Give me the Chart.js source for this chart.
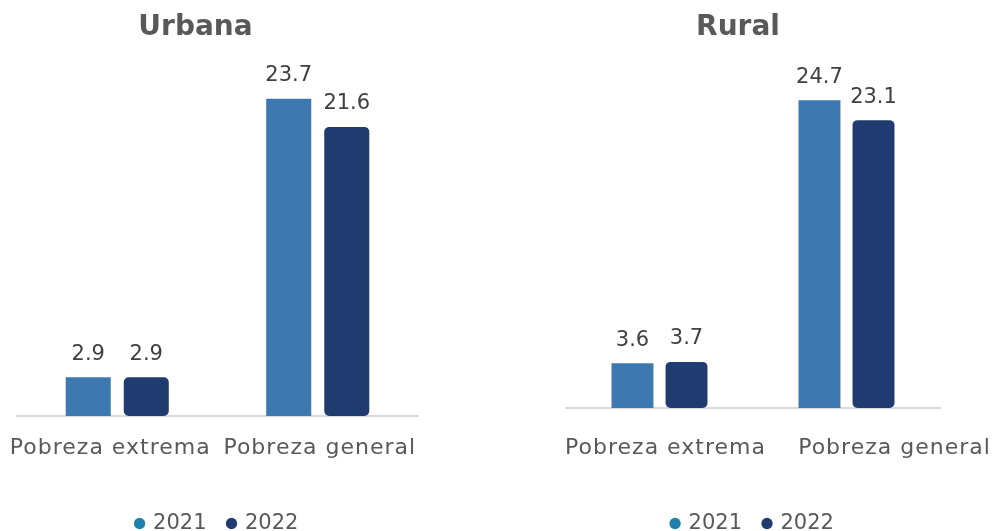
<!DOCTYPE html>
<html>
<head>
<meta charset="utf-8">
<script src="https://cdn.jsdelivr.net/npm/chart.js@4.4.1/dist/chart.umd.min.js"></script>
<style>
  html, body { margin: 0; padding: 0; background: #fff; overflow: hidden; }
  .box { position: absolute; top: 0; height: 531px; }
</style>
</head>
<body>
<div class="box" style="left:0;width:497px"><canvas id="urbanaChart"></canvas></div>
<div class="box" style="left:497px;width:498px"><canvas id="ruralChart"></canvas></div>
<script>
const categories = ['Pobreza extrema', 'Pobreza general'];
const seriesNames = ['2021', '2022'];
const urbana2021 = [2.9, 23.7];
const urbana2022 = [2.9, 21.6];
const rural2021 = [3.6, 24.7];
const rural2022 = [3.7, 23.1];

const barColors = ['#3d78b0', '#1f3b6f'];
const legendColors = ['#2280ad', '#1f3b6f'];
const FONT = 'DejaVu Sans';

// value above each bar
const valueLabels = {
  id: 'valueLabels',
  afterDatasetsDraw(chart) {
    const ctx = chart.ctx;
    ctx.save();
    ctx.font = '21px ' + FONT;
    ctx.textAlign = 'center';
    ctx.textBaseline = 'middle';
    chart.data.datasets.forEach((ds, i) => {
      chart.getDatasetMeta(i).data.forEach((bar, j) => {
        ctx.fillStyle = '#404040';
        ctx.fillText(ds.data[j].toFixed(1), bar.x, bar.y - 23);
      });
    });
    ctx.restore();
  }
};

// category names under the axis + chart heading
const catLabels = {
  id: 'catLabels',
  afterDraw(chart, args, opts) {
    const ctx = chart.ctx;
    const x = chart.scales.x;
    const area = chart.chartArea;
    ctx.save();
    ctx.textAlign = 'center';
    ctx.textBaseline = 'middle';
    ctx.font = '22px ' + FONT;
    ctx.letterSpacing = '1px';
    ctx.fillStyle = '#595959';
    chart.data.labels.forEach((lbl, i) => {
      ctx.fillText(lbl, x.getPixelForValue(i) + opts.shift[i], area.bottom + opts.gap);
    });
    ctx.letterSpacing = '0px';
    ctx.font = 'bold 28px ' + FONT;
    ctx.fillText(opts.title, (area.left + area.right) / 2 + opts.titleShift, 28);
    ctx.restore();
  }
};

function makeChart(id, title, d2021, d2022, cfg) {
  return new Chart(document.getElementById(id), {
    type: 'bar',
    data: {
      labels: categories,
      datasets: [
        { label: seriesNames[0], data: d2021, backgroundColor: barColors[0], borderRadius: 0 },
        { label: seriesNames[1], data: d2022, backgroundColor: barColors[1], borderRadius: 5, borderSkipped: false }
      ]
    },
    options: {
      responsive: true,
      maintainAspectRatio: false,
      animation: false,
      layout: { padding: { left: cfg.left, right: cfg.right, top: cfg.top, bottom: -13 } },
      categoryPercentage: cfg.catPct,
      barPercentage: 0.776,
      scales: {
        x: {
          grid: { display: false },
          border: { display: true, color: '#d9d9d9', width: 2 },
          ticks: { display: false },
          afterFit(scale) { scale.height = cfg.axisH; }
        },
        y: { display: false, min: 0, max: 26 }
      },
      plugins: {
        title: { display: false },
        legend: {
          position: 'bottom',
          labels: {
            color: '#595959',
            font: { family: FONT, size: 21 },
            usePointStyle: true,
            pointStyle: 'circle',
            boxWidth: 6,
            boxHeight: 8,
            padding: 22,
            generateLabels(chart) {
              return chart.data.datasets.map((ds, i) => ({
                text: ds.label,
                fillStyle: legendColors[i],
                strokeStyle: legendColors[i],
                lineWidth: 0,
                pointStyle: 'circle',
                datasetIndex: i,
                fontColor: '#595959'
              }));
            }
          }
        },
        tooltip: { enabled: false },
        catLabels: Object.assign({ title: title }, cfg.cat)
      }
    },
    plugins: [valueLabels, catLabels]
  });
}

makeChart('urbanaChart', 'Urbana', urbana2021, urbana2022, {
  left: 17, right: 79, top: 68, catPct: 0.579, axisH: 75,
  cat: { shift: [-7, 2], gap: 32, titleShift: -22 }
});
makeChart('ruralChart', 'Rural', rural2021, rural2022, {
  left: 69, right: 55, top: 84, catPct: 0.578, axisH: 83,
  cat: { shift: [6, 48], gap: 40, titleShift: -15 }
});
</script>
</body>
</html>
